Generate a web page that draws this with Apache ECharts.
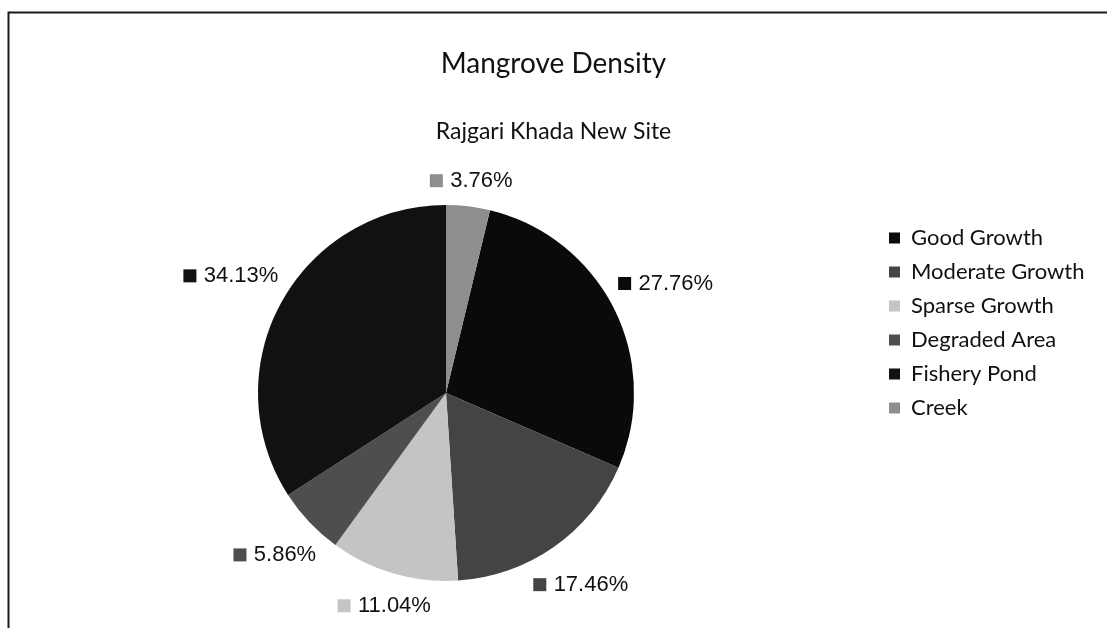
<!doctype html>
<html lang="en">
<head>
  <meta charset="utf-8">
  <title>Mangrove Density</title>
  <script src="https://cdn.jsdelivr.net/npm/echarts@6/dist/echarts.min.js"></script>
  <style>
    html, body { margin: 0; padding: 0; background: #fff; }
    #chart { width: 1107px; height: 628px; }
  </style>
</head>
<body>
  <div id="chart"></div>
  <script>
    // categories and shares (%)
    var categories = ['Good Growth', 'Moderate Growth', 'Sparse Growth', 'Degraded Area', 'Fishery Pond', 'Creek'];
    var shares = [27.76, 17.46, 11.04, 5.86, 34.13, 3.76];
    var sliceColors = ['#0a0a0a', '#444444', '#c4c4c4', '#4e4e4e', '#111111', '#8e8e8e'];

    var pieCenter = [446, 393];
    var pieRadius = 188;
    var labelGap = 10;

    var total = shares.reduce(function (a, b) { return a + b; }, 0);
    // creek sits just right of 12 o'clock, good growth starts after it
    var startAngle = 90 - 360 * shares[shares.length - 1] / total;

    var rich = { v: { fontFamily: 'Liberation Sans', fontSize: 22, color: '#111', padding: [0, 0, 0, 4] } };
    sliceColors.forEach(function (c, i) {
      rich['s' + i] = { width: 13, height: 13, backgroundColor: c };
    });

    var chart = echarts.init(document.getElementById('chart'));
    chart.setOption({
      backgroundColor: '#fff',
      animation: false,
      color: sliceColors,
      title: [
        {
          text: 'Mangrove Density', left: 'center', top: 45,
          textStyle: { fontFamily: 'Lato', fontSize: 28, fontWeight: 'normal', color: '#111' }
        },
        {
          text: 'Rajgari Khada New Site', left: 'center', top: 115,
          textStyle: { fontFamily: 'Lato', fontSize: 23, fontWeight: 'normal', color: '#111' }
        }
      ],
      legend: {
        orient: 'vertical', left: 884, top: 222,
        icon: 'rect', itemWidth: 11, itemHeight: 11, itemGap: 12,
        selectedMode: false,
        data: categories,
        textStyle: { fontFamily: 'Lato', fontSize: 22, color: '#111', padding: [0, 0, 0, 6] }
      },
      graphic: [{
        type: 'rect', left: 6, top: 10, silent: true,
        shape: { width: 1200, height: 700 },
        style: { fill: 'none', stroke: '#1a1a1a', lineWidth: 2 }
      }],
      series: [{
        type: 'pie',
        center: pieCenter,
        radius: pieRadius,
        startAngle: startAngle,
        clockwise: true,
        silent: true,
        itemStyle: { borderWidth: 0 },
        label: {
          position: 'inside',
          formatter: function (p) { return '{s' + p.dataIndex + '|} {v|' + p.value.toFixed(2) + '%}'; },
          rich: rich
        },
        labelLine: { show: false },
        // push each label out along its slice until it clears the pie (best-fit look)
        labelLayout: function (p) {
          var r = p.labelRect;
          var dx = r.x + r.width / 2 - pieCenter[0];
          var dy = r.y + r.height / 2 - pieCenter[1];
          var len = Math.sqrt(dx * dx + dy * dy) || 1;
          var ux = dx / len, uy = dy / len;
          var reach = pieRadius + labelGap + Math.abs(ux) * r.width / 2 + Math.abs(uy) * r.height / 2;
          return {
            x: pieCenter[0] + ux * reach,
            y: pieCenter[1] + uy * reach,
            align: 'center',
            verticalAlign: 'middle'
          };
        },
        data: categories.map(function (n, i) { return { name: n, value: shares[i] }; })
      }]
    });
  </script>
</body>
</html>
